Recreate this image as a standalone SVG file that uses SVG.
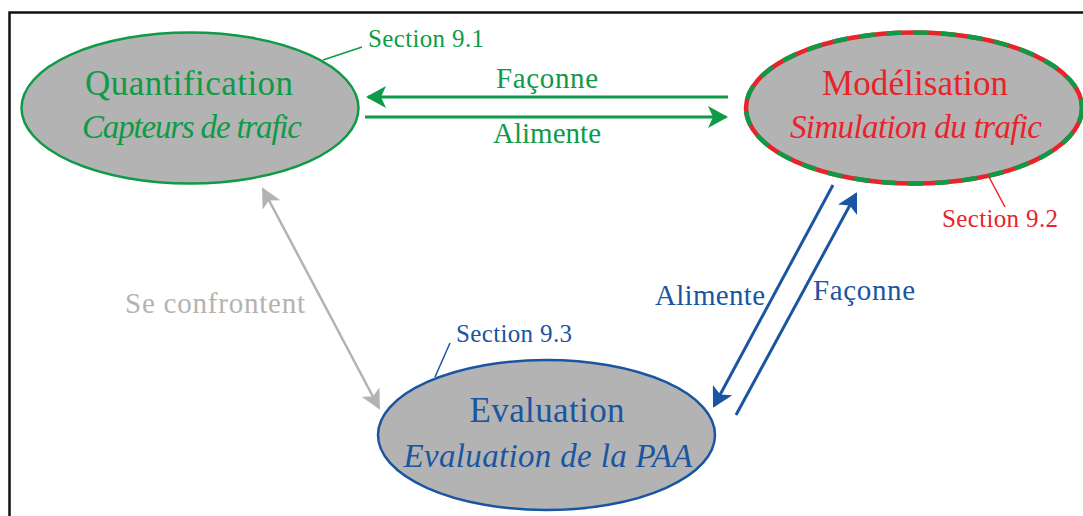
<svg xmlns="http://www.w3.org/2000/svg" width="1083" height="516" viewBox="0 0 1083 516">
<defs>
<style>
.t{font-family:"Liberation Serif","Times New Roman",serif;text-anchor:middle}
.h{font-size:35px}
.i{font-size:33px;font-style:italic}
.s{font-size:25px}
.c{font-size:29px}
.g{fill:#0f9a48}.r{fill:#e8232a}.b{fill:#1a55a2}.gr{fill:#b3b3b3}
.node{fill:#b3b3b3}
</style>
<marker id="ag" markerWidth="20" markerHeight="22" viewBox="0 0 20 22" refX="18" refY="11" orient="auto" markerUnits="userSpaceOnUse"><path d="M0,0 L20,11 L0,22 L5,11 Z" fill="#0f9a48"/></marker>
<marker id="ab" markerWidth="20" markerHeight="22" viewBox="0 0 20 22" refX="18" refY="11" orient="auto" markerUnits="userSpaceOnUse"><path d="M0,0 L20,11 L0,22 L5,11 Z" fill="#1a55a2"/></marker>
<marker id="agr" markerWidth="20" markerHeight="20" viewBox="0 0 20 20" refX="18" refY="10" orient="auto-start-reverse" markerUnits="userSpaceOnUse"><path d="M0,0 L20,10 L0,20 L5,10 Z" fill="#b3b3b3"/></marker>
</defs>
<rect width="1083" height="516" fill="#fff"/>
<path d="M9.5,520 V12.5 H1090" fill="none" stroke="#111" stroke-width="2.5"/>

<g id="connectors" fill="none">
<line x1="728" y1="97" x2="368" y2="97" stroke="#0f9a48" stroke-width="3" marker-end="url(#ag)"/>
<line x1="365" y1="117" x2="726" y2="117" stroke="#0f9a48" stroke-width="3" marker-end="url(#ag)"/>
<line x1="833" y1="185" x2="714" y2="406" stroke="#1a55a2" stroke-width="3" marker-end="url(#ab)"/>
<line x1="736" y1="415" x2="856" y2="194" stroke="#1a55a2" stroke-width="3" marker-end="url(#ab)"/>
<line x1="263" y1="189" x2="379" y2="408" stroke="#b3b3b3" stroke-width="2.5" marker-start="url(#agr)" marker-end="url(#agr)"/>
<text class="t c g" x="547" y="88" textLength="102">Façonne</text>
<text class="t c g" x="547" y="143" textLength="108">Alimente</text>
<text class="t c b" x="710" y="305" textLength="110">Alimente</text>
<text class="t c b" x="864" y="300" textLength="102">Façonne</text>
<text class="t c gr" x="215" y="313" textLength="180">Se confrontent</text>
</g>

<g id="quantification">
<ellipse class="node" cx="190" cy="108" rx="168.5" ry="75.5" stroke="#0f9a48" stroke-width="2.5"/>
<text class="t h g" x="189" y="95" textLength="208">Quantification</text>
<text class="t i g" x="192" y="138" textLength="220">Capteurs de trafic</text>
<line x1="323" y1="60" x2="362" y2="47" stroke="#0f9a48" stroke-width="1.5"/>
<text class="t s g" x="426" y="47" textLength="116">Section 9.1</text>
</g>

<g id="modelisation">
<ellipse class="node" cx="914" cy="108" rx="168" ry="75.5" stroke="#e8232a" stroke-width="4.5"/>
<ellipse cx="914" cy="108" rx="168" ry="75.5" fill="none" stroke="#0f9a48" stroke-width="4.5" stroke-dasharray="15 12"/>
<text class="t h r" x="915" y="95" textLength="186">Modélisation</text>
<text class="t i r" x="916" y="138" textLength="252">Simulation du trafic</text>
<line x1="989" y1="177" x2="1005" y2="207" stroke="#e8232a" stroke-width="1.5"/>
<text class="t s r" x="1000" y="227" textLength="116">Section 9.2</text>
</g>

<g id="evaluation">
<ellipse class="node" cx="546.5" cy="435" rx="168.5" ry="75" stroke="#1a55a2" stroke-width="2.5"/>
<text class="t h b" x="547" y="422" textLength="155">Evaluation</text>
<text class="t i b" x="548" y="467" textLength="289">Evaluation de la PAA</text>
<line x1="435" y1="377" x2="450" y2="343" stroke="#1a55a2" stroke-width="1.5"/>
<text class="t s b" x="514" y="342" textLength="116">Section 9.3</text>
</g>
</svg>
